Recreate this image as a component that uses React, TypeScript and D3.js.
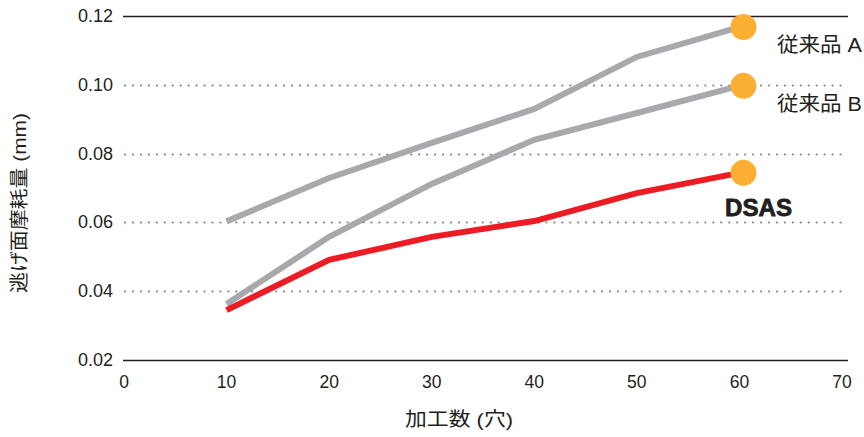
import { useEffect } from "react";
import * as d3 from "d3";

const WIDTH = 864;
const HEIGHT = 437;

const holes = [10, 20, 30, 40, 50, 60];
const seriesA = [0.0603, 0.0729, 0.0831, 0.093, 0.1081, 0.1168];
const seriesB = [0.0363, 0.0558, 0.0712, 0.084, 0.0918, 0.0997];
const seriesDSAS = [0.0345, 0.0491, 0.0558, 0.0604, 0.0685, 0.0744];
const xTicks = [0, 10, 20, 30, 40, 50, 60, 70];
const yTicks = [0.02, 0.04, 0.06, 0.08, 0.1, 0.12];

const FONT = "'Liberation Sans', Arial, 'Noto Sans CJK JP', sans-serif";
const INK = "#231f20";

const App = () => {
  useEffect(() => {
    document.body.style.margin = "0";
  }, []);

  const xScale = d3.scaleLinear().domain([0, 70]).range([124, 842]);
  const yScale = d3.scaleLinear().domain([0.02, 0.12]).range([360, 16]);

  const line = d3
    .line<number>()
    .x((_, i) => xScale(holes[i]))
    .y((d) => yScale(d));

  const series = [
    { name: "従来品 A", values: seriesA, color: "#a7a9ac" },
    { name: "従来品 B", values: seriesB, color: "#a7a9ac" },
    { name: "DSAS", values: seriesDSAS, color: "#ed1c24" },
  ];

  return (
    <svg width={WIDTH} height={HEIGHT} style={{ display: "block", background: "#fff" }} fontFamily={FONT}>
      {/* grid + y ticks */}
      {yTicks.map((t, i) => {
        const solid = i === 0 || i === yTicks.length - 1;
        const y = Math.round(yScale(t)) + 0.5;
        return (
          <g key={t}>
            <line
              x1={solid ? 123 : 125}
              x2={848}
              y1={y}
              y2={y}
              stroke={solid ? INK : "#858585"}
              strokeWidth={solid ? 1.3 : 2.2}
              strokeDasharray={solid ? undefined : "0.1 7.85"}
              strokeLinecap={solid ? "butt" : "round"}
            />
            <text x={113} y={yScale(t)} textAnchor="end" dominantBaseline="central" fontSize={18} fill={INK}>
              {d3.format(".2f")(t)}
            </text>
          </g>
        );
      })}
      {xTicks.map((t) => (
        <text key={t} x={xScale(t)} y={382} textAnchor="middle" dominantBaseline="central" fontSize={17.5} fill={INK}>
          {t}
        </text>
      ))}

      {/* lines */}
      {series.map((s) => (
        <path key={s.name} d={line(s.values) || ""} fill="none" stroke={s.color} strokeWidth={6} strokeLinejoin="miter" />
      ))}
      {series.map((s) => (
        <circle
          key={s.name + "-end"}
          cx={xScale(holes[holes.length - 1]) + 4}
          cy={yScale(s.values[s.values.length - 1])}
          r={13}
          fill="#fbb034"
        />
      ))}

      {/* series labels */}
      <text x={777} y={45} dominantBaseline="central" fontSize={20} fill={INK} textLength={85} lengthAdjust="spacingAndGlyphs">
        従来品 A
      </text>
      <text x={777} y={104} dominantBaseline="central" fontSize={20} fill={INK} textLength={85} lengthAdjust="spacingAndGlyphs">
        従来品 B
      </text>
      <text
        x={725}
        y={207}
        dominantBaseline="central"
        fontSize={24.5}
        fontWeight="bold"
        fill={INK}
        stroke={INK}
        strokeWidth={0.8}
        textLength={67}
        lengthAdjust="spacingAndGlyphs"
        fontFamily="'Liberation Sans', Arial, sans-serif"
      >
        DSAS
      </text>

      {/* axis titles */}
      <text
        x={405}
        y={419}
        dominantBaseline="central"
        fontSize={19}
        fill={INK}
        textLength={108}
        lengthAdjust="spacingAndGlyphs"
      >
        加工数 (穴)
      </text>
      <text
        transform="translate(19, 293) rotate(-90)"
        dominantBaseline="central"
        fontSize={19}
        fill={INK}
        textLength={180}
        lengthAdjust="spacingAndGlyphs"
      >
        逃げ面摩耗量 (mm)
      </text>
    </svg>
  );
};

export default App;
